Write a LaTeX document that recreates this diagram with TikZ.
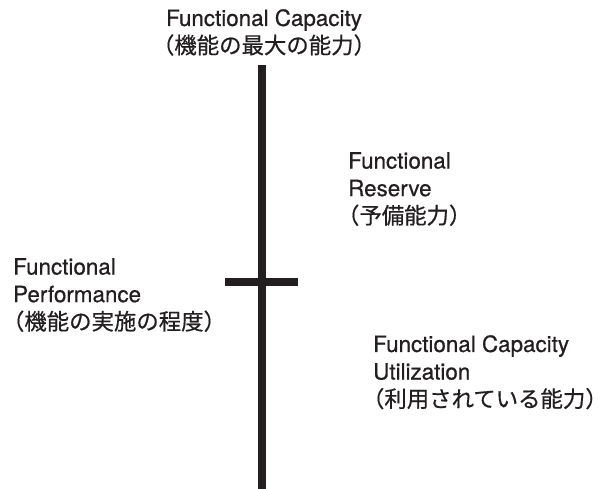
\documentclass[tikz,border=0pt]{standalone}
\usepackage{fontspec}
\setmainfont[FakeBold=0.6]{TeX Gyre Heros}
\newfontfamily\jfont[FakeBold=0.6]{Noto Sans CJK JP}
\usetikzlibrary{positioning}
\definecolor{ink}{HTML}{231F20}
\newcommand\jopen{\kern-.5em（}
\newcommand\jclose{）\kern-.5em}

\begin{document}
\begin{tikzpicture}[x=1pt,y=-1pt,
  bar/.style={draw=ink,line width=7.5pt},
  label/.style={inner sep=0,align=left,text=ink,font=\fontsize{22.4}{27.6}\selectfont}]
\useasboundingbox (0,0) rectangle (604,488);

% Scale
\coordinate (top) at (262,65);
\coordinate (bottom) at (262,490);
\coordinate (tickl) at (225,282);
\coordinate (tickr) at (298,282);
\draw[bar] (top) -- (bottom);
\draw[bar] (tickl) -- (tickr);

% Labels
\node (capacity) at (264,9) [label,anchor=north,align=center]
{Functional Capacity\\{\jfont\jopen 機能の最大の能力\jclose}};
\node (reserve) at (348,152) [label,anchor=north west]
{Functional\\Reserve\\{\jfont\jopen 予備能力\jclose}};
\node (performance) at (13,258) [label,anchor=north west]
{Functional\\Performance\\{\jfont\jopen 機能の実施の程度\jclose}};
\node (utilization) at (373,335) [label,anchor=north west]
{Functional Capacity\\Utilization\\{\jfont\jopen 利用されている能力\jclose}};

\end{tikzpicture}
\end{document}
